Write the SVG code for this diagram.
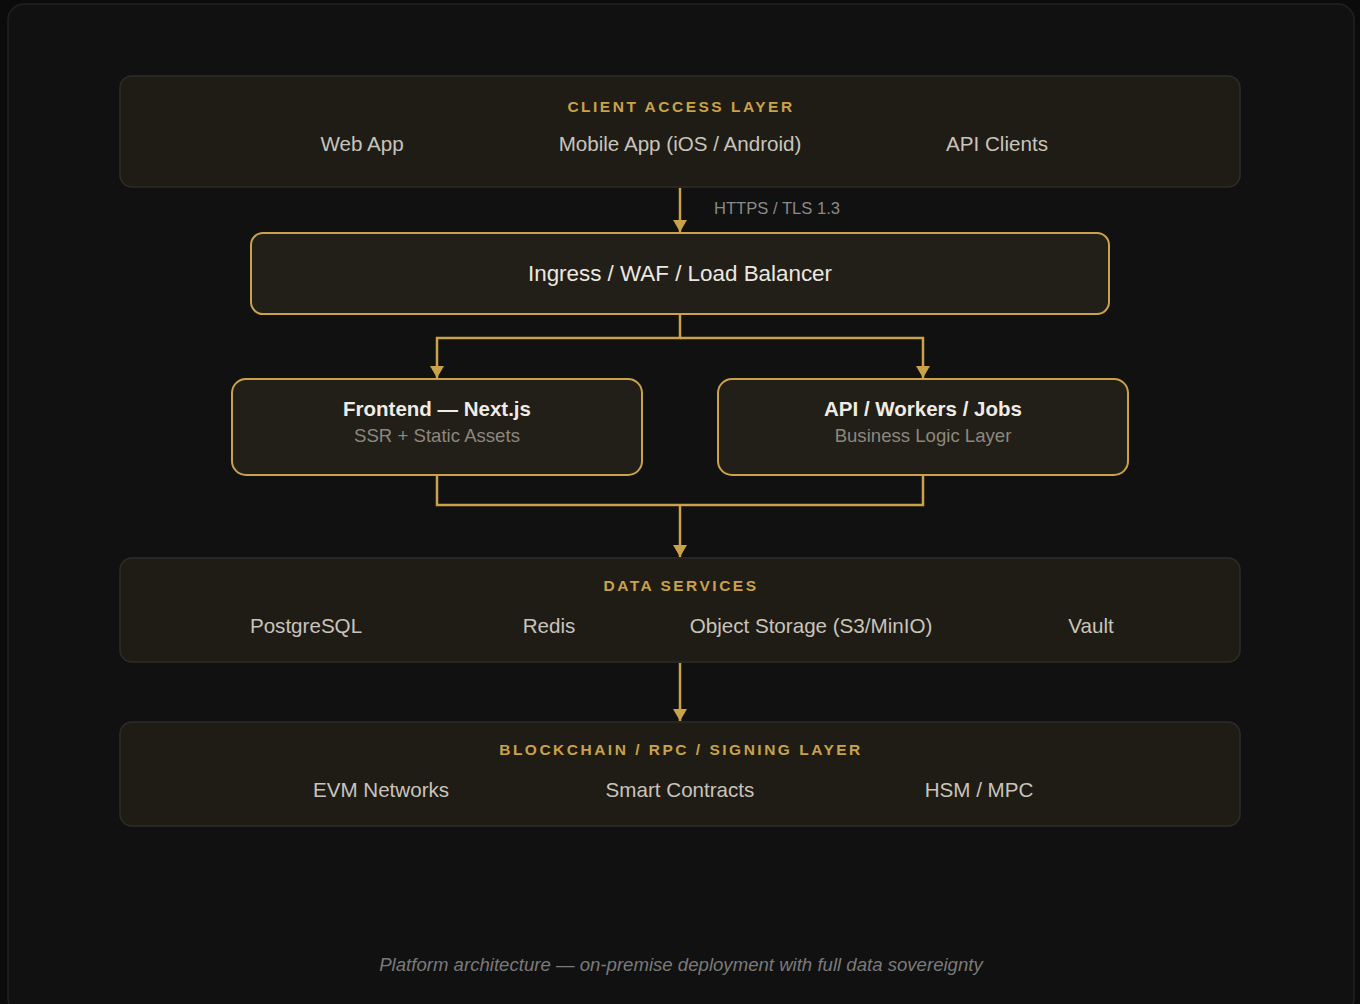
<svg xmlns="http://www.w3.org/2000/svg" width="1360" height="1004" viewBox="0 0 1360 1004">
<defs>
<marker id="arr" viewBox="0 0 12 14" refX="12" refY="7" markerWidth="12" markerHeight="14" markerUnits="userSpaceOnUse" orient="auto">
<path d="M0,0 L12,7 L0,14 Z" fill="#c9a24a"/>
</marker>
<style>
.layer{fill:#1f1c16;stroke:#2e2d2a;stroke-width:1.5}
.node{fill:#221e18;stroke:#c9a24a;stroke-width:2}
.ttl{font-family:"Liberation Sans",Arial,sans-serif;font-size:15.5px;font-weight:bold;fill:#c9a24a;letter-spacing:2.5px;text-anchor:middle}
.item{font-family:"Liberation Sans",Arial,sans-serif;font-size:20.6px;fill:#c8c4bc;text-anchor:middle}
.big{font-family:"Liberation Sans",Arial,sans-serif;font-size:22.4px;fill:#ece8e0;text-anchor:middle}
.bold{font-family:"Liberation Sans",Arial,sans-serif;font-size:20.5px;font-weight:bold;fill:#f0ece4;text-anchor:middle}
.sub{font-family:"Liberation Sans",Arial,sans-serif;font-size:18.6px;fill:#8c887f;text-anchor:middle}
.lbl{font-family:"Liberation Sans",Arial,sans-serif;font-size:16.6px;fill:#8a8a8a}
.cap{font-family:"Liberation Sans",Arial,sans-serif;font-size:18.6px;font-style:italic;fill:#7a7a7a;text-anchor:middle}
.c{fill:none;stroke:#c9a24a;stroke-width:2.5}
</style>
</defs>
<rect width="1360" height="1004" fill="#0b0b0b"/>
<rect x="8" y="4" width="1346" height="1010" rx="16" fill="#111111" stroke="#222222" stroke-width="1.5"/>

<g id="client-layer">
<rect class="layer" x="120" y="76" width="1120" height="111" rx="12"/>
<text class="ttl" x="681" y="112">CLIENT ACCESS LAYER</text>
<text class="item" x="362" y="151">Web App</text>
<text class="item" x="680" y="151">Mobile App (iOS / Android)</text>
<text class="item" x="997" y="151">API Clients</text>
</g>

<g id="ingress">
<rect class="node" x="251" y="233" width="858" height="81" rx="12"/>
<text class="big" x="680" y="281">Ingress / WAF / Load Balancer</text>
</g>

<g id="frontend">
<rect class="node" x="232" y="379" width="410" height="96" rx="14"/>
<text class="bold" x="437" y="416">Frontend — Next.js</text>
<text class="sub" x="437" y="442">SSR + Static Assets</text>
</g>

<g id="api">
<rect class="node" x="718" y="379" width="410" height="96" rx="14"/>
<text class="bold" x="923" y="416">API / Workers / Jobs</text>
<text class="sub" x="923" y="442">Business Logic Layer</text>
</g>

<g id="data-layer">
<rect class="layer" x="120" y="558" width="1120" height="104" rx="12"/>
<text class="ttl" x="681" y="591">DATA SERVICES</text>
<text class="item" x="306" y="633">PostgreSQL</text>
<text class="item" x="549" y="633">Redis</text>
<text class="item" x="811" y="633">Object Storage (S3/MinIO)</text>
<text class="item" x="1091" y="633">Vault</text>
</g>

<g id="blockchain-layer">
<rect class="layer" x="120" y="722" width="1120" height="104" rx="12"/>
<text class="ttl" x="681" y="755">BLOCKCHAIN / RPC / SIGNING LAYER</text>
<text class="item" x="381" y="797">EVM Networks</text>
<text class="item" x="680" y="797">Smart Contracts</text>
<text class="item" x="979" y="797">HSM / MPC</text>
</g>

<g id="connectors">
<path class="c" d="M680,188 V232" marker-end="url(#arr)"/>
<text class="lbl" x="714" y="214">HTTPS / TLS 1.3</text>
<path class="c" d="M680,315 V338 H437 V378" marker-end="url(#arr)"/>
<path class="c" d="M680,338 H923 V378" marker-end="url(#arr)"/>
<path class="c" d="M437,476 V505 H923 V476"/>
<path class="c" d="M680,505 V557" marker-end="url(#arr)"/>
<path class="c" d="M680,663 V721" marker-end="url(#arr)"/>
</g>

<text class="cap" x="681" y="971">Platform architecture — on-premise deployment with full data sovereignty</text>
</svg>
